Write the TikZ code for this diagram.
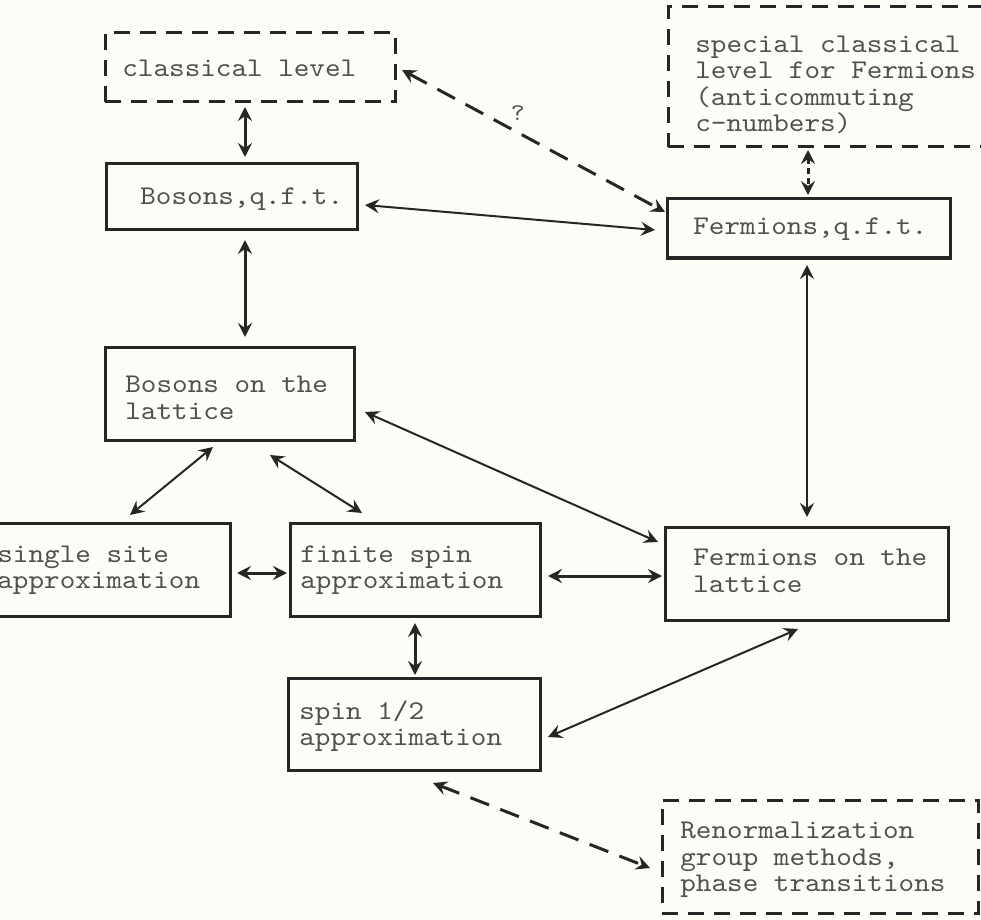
\documentclass[tikz,border=0pt]{standalone}
\usepackage{fontspec}
\newfontfamily\twfont[FakeStretch=1.1]{lmmono10-regular.otf}
\usetikzlibrary{arrows.meta,calc}
\definecolor{paper}{RGB}{253,252,247}
\definecolor{ink}{RGB}{38,38,38}
\definecolor{typeink}{RGB}{80,80,80}
\tikzset{
  box/.style={draw=ink, line width=1.5pt, rectangle, inner sep=0pt},
  dbox/.style={box, dash pattern=on 8pt off 5pt},
  txt/.style={font=\twfont\fontsize{13.5pt}{13.2pt}\selectfont, text=typeink, inner sep=0pt, anchor=west, align=left},
  conn/.style={<->, draw=ink, line width=1pt},
  bconn/.style={<->, draw=ink, line width=1.5pt},
  dconn/.style={<->, draw=ink, line width=1.5pt, dash pattern=on 10pt off 6pt},
  sconn/.style={<->, draw=ink, line width=1.5pt, dash pattern=on 3pt off 2pt},
}
\begin{document}
\begin{tikzpicture}[x=0.5pt, y=-0.5pt, >={Stealth[length=7pt,width=7pt,inset=2.5pt]}]
\useasboundingbox (0,0) rectangle (981,920);
\clip (0,0) rectangle (981,920);
\fill[paper] (0,0) rectangle (981,920);

% boxes
\node[dbox, minimum width=145pt, minimum height=34.5pt] (cl) at (250,67.5) {};
\node[box, minimum width=125.5pt, minimum height=33pt] (bq) at (231.5,197) {};
\node[dbox, minimum width=161pt, minimum height=70pt] (sc) at (829,77) {};
\node[box, minimum width=141.5pt, minimum height=29.5pt] (fq) at (808.5,228.5) {};
\node[box, minimum width=124.5pt, minimum height=46.5pt] (bl) at (229.5,393.5) {};
\node[box, minimum width=122.5pt, minimum height=46.5pt] (ss) at (107.5,569.5) {};
\node[box, minimum width=125pt, minimum height=46.5pt] (fs) at (415,569.5) {};
\node[box, minimum width=141.5pt, minimum height=46.5pt] (fl) at (806.5,573.5) {};
\node[box, minimum width=126pt, minimum height=46pt] (sh) at (414,724) {};
\node[dbox, minimum width=158pt, minimum height=56.5pt] (rg) at (820,856.5) {};

% texts
\node[txt] (tcl) at (122,68) {classical level};
\node[txt] (tbq) at (140,199) {Bosons,q.f.t.};
\node[txt] (tsc) at (695,85) {special classical\\level for Fermions\\(anticommuting\\c-numbers)};
\node[txt] (tfq) at (693,229) {Fermions,q.f.t.};
\node[txt] (tbl) at (125,398) {Bosons on the\\lattice};
\node[txt] (tss) at (-3,570) {single site\\approximation};
\node[txt] (tfs) at (300,570) {finite spin\\approximation};
\node[txt] (tfl) at (693,571) {Fermions on the\\lattice};
\node[txt] (tsh) at (299,726) {spin 1/2\\approximation};
\node[txt] (trg) at (680,860) {Renormalization\\group methods,\\phase transitions};

% connectors
\draw[bconn] ($(cl)+(-5,39.5)$) -- ($(bq)+(13.5,-40)$);
\draw[bconn] ($(bq)+(13.5,43)$) -- ($(bl)+(15.5,-56.5)$);
\draw[conn] ($(bq)+(133.5,8)$) -- ($(fq)+(-153.5,1.5)$);
\draw[dconn] ($(cl)+(152,2.5)$) -- node[pos=0.44, above=5pt, font=\twfont\fontsize{12pt}{12pt}\selectfont, text=typeink, inner sep=0pt] (q) {?} ($(fq)+(-143.5,-16.5)$);
\draw[sconn] ($(sc)+(-21,73)$) -- ($(fq)+(-0.5,-33.5)$);
\draw[conn] ($(fq)+(-1.5,36.5)$) -- ($(fl)+(0.5,-56.5)$);
\draw[conn] ($(bl)+(135.5,18.5)$) -- ($(fl)+(-148.5,-31.5)$);
\draw[conn] ($(bl)+(-16.5,53.5)$) -- ($(ss)+(22.5,-54.5)$);
\draw[conn] ($(bl)+(40.5,61.5)$) -- ($(fs)+(-53,-56.5)$);
\draw[bconn] ($(ss)+(129.5,3.5)$) -- ($(fs)+(-128,3.5)$);
\draw[bconn] ($(fs)+(133,6.5)$) -- ($(fl)+(-144.5,2.5)$);
\draw[bconn] ($(fs)+(0,53.5)$) -- ($(sh)+(1,-49)$);
\draw[conn] ($(fl)+(-8.5,55.5)$) -- ($(sh)+(134,13)$);
\draw[dconn] ($(sh)+(19,59)$) -- ($(rg)+(-170,11.5)$);
\end{tikzpicture}
\end{document}
